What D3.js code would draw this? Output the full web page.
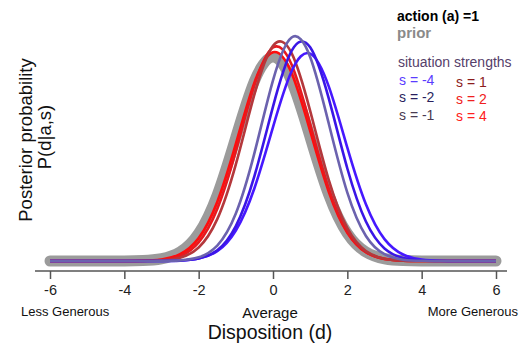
<!DOCTYPE html>
<html>
<head>
<meta charset="utf-8">
<script src="https://cdn.jsdelivr.net/npm/d3@7"></script>
<style>
  html, body { margin: 0; padding: 0; background: #fff; }
  svg { display: block; font-family: "Liberation Sans", Arial, Helvetica, sans-serif; }
</style>
</head>
<body>
<svg id="chart" width="521" height="345"></svg>
<script>
// ---- data ----
const xs = [-6, -5.5, -5, -4.5, -4, -3.5, -3, -2.5, -2, -1.5, -1, -0.5, 0, 0.5, 1, 1.5, 2, 2.5, 3, 3.5, 4, 4.5, 5, 5.5, 6];
const xTicks = [-6, -4, -2, 0, 2, 4, 6];

const prior    = [0, 0, 0, 0, 0.0001, 0.0009, 0.0044, 0.0175, 0.054, 0.1295, 0.242, 0.352, 0.399, 0.352, 0.242, 0.1295, 0.054, 0.0175, 0.0044, 0.0009, 0.0001, 0, 0, 0, 0];
const sPos4    = [0, 0, 0, 0, 0.0001, 0.0005, 0.0031, 0.0134, 0.0448, 0.1156, 0.229, 0.349, 0.4085, 0.3677, 0.2544, 0.1354, 0.0553, 0.0174, 0.0042, 0.0008, 0.0001, 0, 0, 0, 0];
const sPos2    = [0, 0, 0, 0, 0.0001, 0.0003, 0.0021, 0.0099, 0.0365, 0.1017, 0.2149, 0.344, 0.4177, 0.3844, 0.268, 0.1418, 0.0568, 0.0173, 0.004, 0.0007, 0.0001, 0, 0, 0, 0];
const sPos1    = [0, 0, 0, 0, 0, 0.0002, 0.0012, 0.0064, 0.0265, 0.0819, 0.189, 0.326, 0.421, 0.4067, 0.2937, 0.1587, 0.0642, 0.0194, 0.0044, 0.0007, 0.0001, 0, 0, 0, 0];
const sNeg1    = [0, 0, 0, 0, 0, 0, 0.0002, 0.0013, 0.0072, 0.0301, 0.0928, 0.211, 0.3535, 0.4373, 0.3992, 0.269, 0.1337, 0.049, 0.0133, 0.0026, 0.0004, 0, 0, 0, 0];
const sNeg2    = [0, 0, 0, 0, 0, 0, 0.0001, 0.0008, 0.0048, 0.021, 0.0684, 0.166, 0.302, 0.4109, 0.418, 0.318, 0.181, 0.0772, 0.0246, 0.0059, 0.001, 0.0001, 0, 0, 0];
const sNeg4    = [0, 0, 0, 0, 0, 0, 0.0001, 0.0009, 0.0048, 0.0193, 0.0597, 0.1424, 0.262, 0.3713, 0.4057, 0.3416, 0.2218, 0.1109, 0.0428, 0.0127, 0.0029, 0.0005, 0.0001, 0, 0];

const seriesNames  = ["s = 4", "s = 2", "s = 1", "s = -4", "s = -2", "s = -1"];
const seriesValues = [sPos4, sPos2, sPos1, sNeg4, sNeg2, sNeg1];
const seriesColors = ["#ff0d0d", "#e8191e", "#b4383c", "#4618ff", "#3a16e6", "#6b62ae"];

const legendLeft  = ["s = -4", "s = -2", "s = -1"];
const legendLeftColors = ["#5a3cff", "#2a1f5e", "#4a3b52"];
const legendRight = ["s = 1", "s = 2", "s = 4"];
const legendRightColors = ["#8c1c1c", "#f02020", "#ff2020"];

// ---- drawing ----
const svg = d3.select("#chart");
const x = d3.scaleLinear().domain([-6, 6]).range([50, 496]);
const y = d3.scaleLinear().domain([0, 0.45]).range([261, 31]);

const line = d3.line()
  .x((d, i) => x(xs[i]))
  .y(d => y(Math.max(0, d)))
  .curve(d3.curveNatural);

// prior (thick gray)
svg.append("path")
  .attr("d", line(prior))
  .attr("fill", "none")
  .attr("stroke", "#9b9b9b")
  .attr("stroke-width", 11)
  .attr("stroke-linecap", "round")
  .attr("stroke-linejoin", "round");

seriesValues.forEach((vals, k) => {
  svg.append("path")
    .attr("d", line(vals))
    .attr("fill", "none")
    .attr("stroke", seriesColors[k])
    .attr("stroke-width", 2.6)
    .attr("stroke-linejoin", "round");
});

// x axis
const axis = d3.axisBottom(x).tickValues(xTicks).tickSize(8).tickPadding(6)
  .tickFormat(d => d < 0 ? "-" + Math.abs(d) : String(d));
const gx = svg.append("g").attr("transform", "translate(0,271)").call(axis);
gx.select(".domain").attr("d", "M35,0H507").attr("stroke", "#555").attr("stroke-width", 1.5);
gx.selectAll(".tick line").attr("stroke", "#555").attr("stroke-width", 1.5);
gx.selectAll(".tick text").attr("font-size", 14.5).attr("fill", "#222")
  .attr("font-family", "Liberation Sans, Arial, sans-serif");

// axis annotations
svg.append("text").attr("x", 21).attr("y", 316).attr("font-size", 13).attr("fill", "#111").text("Less Generous");
svg.append("text").attr("x", 518).attr("y", 316).attr("text-anchor", "end").attr("font-size", 13).attr("fill", "#111").text("More Generous");
svg.append("text").attr("x", 270).attr("y", 318).attr("text-anchor", "middle").attr("font-size", 15).attr("fill", "#111").text("Average");
svg.append("text").attr("x", 270).attr("y", 339).attr("text-anchor", "middle").attr("font-size", 19.5).attr("fill", "#111").text("Disposition (d)");

// y label
svg.append("text").attr("transform", "translate(32,140) rotate(-90)")
  .attr("text-anchor", "middle").attr("font-size", 18.5).attr("fill", "#111").text("Posterior probability");
svg.append("text").attr("transform", "translate(51,137) rotate(-90)")
  .attr("text-anchor", "middle").attr("font-size", 18.5).attr("fill", "#111").text("P(d|a,s)");

// legend
svg.append("text").attr("x", 397).attr("y", 21).attr("font-size", 14).attr("font-weight", "bold").attr("fill", "#000").text("action (a) =1");
svg.append("text").attr("x", 397).attr("y", 38).attr("font-size", 15).attr("font-weight", "bold").attr("fill", "#8a8a8a").text("prior");
svg.append("text").attr("x", 398).attr("y", 67).attr("font-size", 14).attr("fill", "#55406a").text("situation strengths");

const ly = [85, 102, 119.5];
legendLeft.forEach((t, i) => {
  svg.append("text").attr("x", 399).attr("y", ly[i]).attr("font-size", 14).attr("fill", legendLeftColors[i]).text(t);
});
const ry = [87, 104, 121];
legendRight.forEach((t, i) => {
  svg.append("text").attr("x", 456).attr("y", ry[i]).attr("font-size", 14).attr("fill", legendRightColors[i]).text(t);
});
</script>
</body>
</html>
